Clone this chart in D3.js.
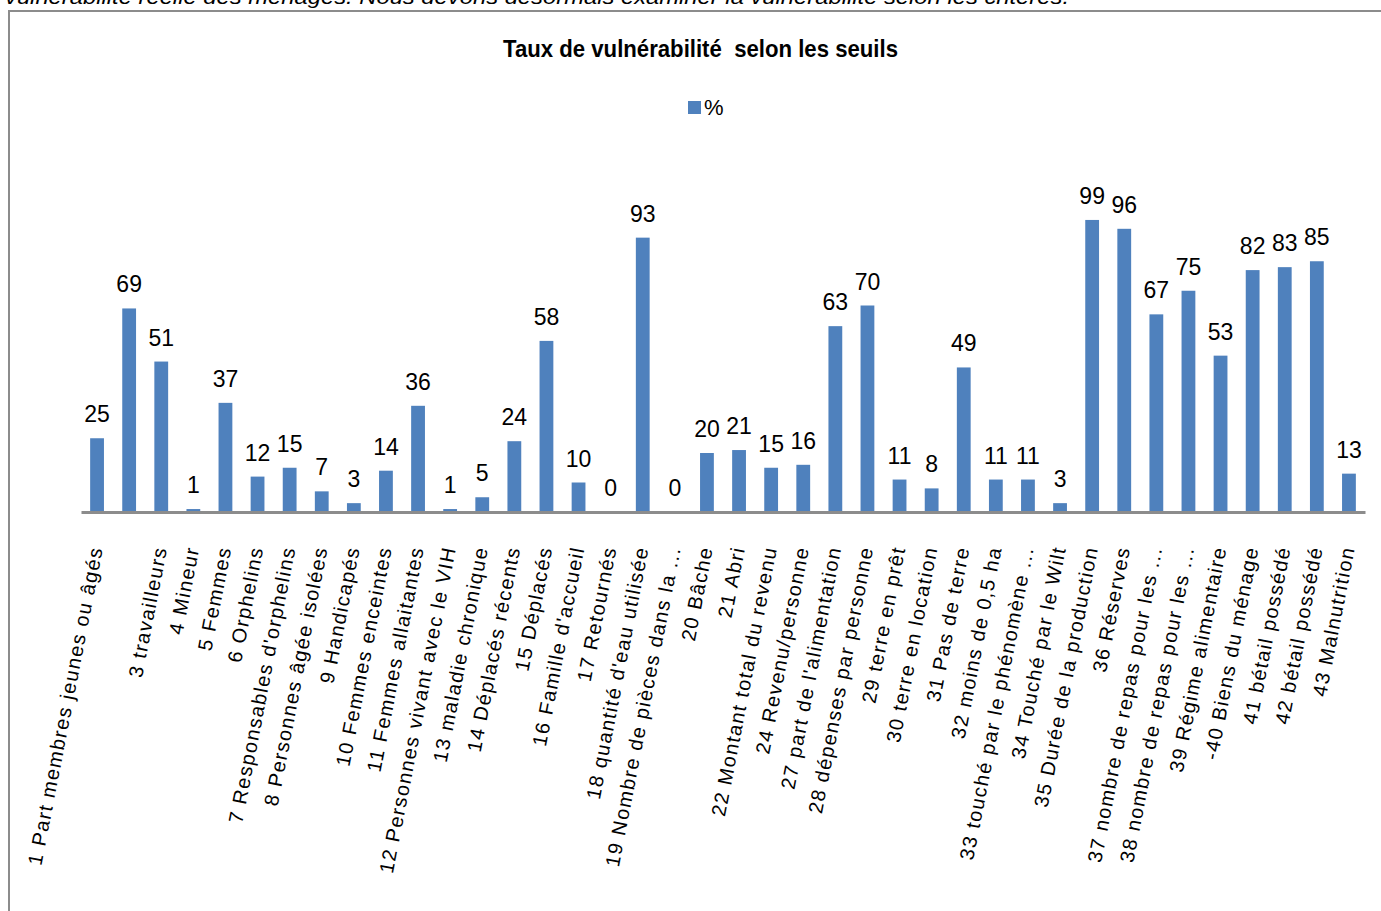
<!DOCTYPE html>
<html><head><meta charset="utf-8">
<script src="https://cdn.jsdelivr.net/npm/d3@7"></script>
<style>body{margin:0;background:#fff;overflow:hidden}svg{display:block}</style>
</head><body>
<script>
const categories = ["1 Part membres jeunes ou âgés","","3 travailleurs","4 Mineur","5 Femmes","6 Orphelins","7 Responsables d'orphelins","8 Personnes âgée isolées","9 Handicapés","10 Femmes enceintes","11 Femmes allaitantes","12 Personnes vivant avec le VIH","13 maladie chronique","14 Déplacés récents","15 Déplacés","16 Famille d'accueil","17 Retournés","18 quantité d'eau utilisée","19 Nombre de pièces dans la ...","20 Bâche","21 Abri","22 Montant total du revenu","24 Revenu/personne","27 part de l'alimentation","28 dépenses par personne","29 terre en prêt","30 terre en location","31 Pas de terre","32 moins de 0,5 ha","33 touché par le phénomène ...","34 Touché par le Wilt","35 Durée de la production","36 Réserves","37 nombre de repas pour les ...","38 nombre de repas pour les ...","39 Régime alimentaire","-40 Biens du ménage","41 bétail possédé","42 bétail possédé","43 Malnutrition"];
const values = [25,69,51,1,37,12,15,7,3,14,36,1,5,24,58,10,0,93,0,20,21,15,16,63,70,11,8,49,11,11,3,99,96,67,75,53,82,83,85,13];
const seriesName = "%";
const title = "Taux de vulnérabilité  selon les seuils";
const topText = "vulnérabilité réelle des ménages. Nous devons désormais examiner la vulnérabilité selon les critères.";

const W = 1381, H = 911;
const svg = d3.select("body").append("svg").attr("width", W).attr("height", H);
const color = "#4F81BD";

svg.append("text").attr("x", 5).attr("y", 4)
  .attr("font-family", "Liberation Sans, Arial, sans-serif").attr("font-style", "italic")
  .attr("font-size", 20).attr("textLength", 1064).attr("lengthAdjust", "spacingAndGlyphs")
  .attr("fill", "#000").text(topText);

svg.append("rect").attr("x", 9).attr("y", 11).attr("width", W).attr("height", H)
  .attr("fill", "#fff").attr("stroke", "#8c8c8c").attr("stroke-width", 2);

svg.append("text").attr("x", 503).attr("y", 57)
  .attr("font-family", "Liberation Sans, Arial, sans-serif")
  .attr("font-weight", "bold").attr("font-size", 24)
  .attr("textLength", 395).attr("lengthAdjust", "spacingAndGlyphs")
  .style("white-space", "pre").text(title);

// legend
svg.append("rect").attr("x", 688).attr("y", 101).attr("width", 13).attr("height", 13).attr("fill", color);
svg.append("text").attr("x", 704).attr("y", 115)
  .attr("font-family", "Liberation Sans, Arial, sans-serif").attr("font-size", 22).text(seriesName);

const x = d3.scaleBand().domain(d3.range(values.length)).range([81, 1365]).paddingInner(0.57).paddingOuter(0.285);
const y = d3.scaleLinear().domain([0, 100]).range([512, 217]);

svg.selectAll("rect.bar").data(values).join("rect").attr("class", "bar")
  .attr("x", (d, i) => x(i)).attr("width", x.bandwidth())
  .attr("y", d => y(d)).attr("height", d => y(0) - y(d)).attr("fill", color);

svg.selectAll("text.val").data(values).join("text").attr("class", "val")
  .attr("x", (d, i) => x(i) + x.bandwidth() / 2).attr("y", d => y(d) - 16)
  .attr("text-anchor", "middle").attr("font-family", "Liberation Sans, Arial, sans-serif")
  .attr("font-size", 23).attr("fill", "#000").text(d => d);

// axis
const axis = d3.axisBottom(x).tickSize(0).tickFormat(i => categories[i]);
const g = svg.append("g").attr("transform", `translate(0,${y(0)})`).call(axis);
g.select(".domain").attr("stroke", "#8c8c8c").attr("stroke-width", 3);
g.selectAll(".tick text")
  .attr("font-family", "Liberation Sans, Arial, sans-serif").attr("font-size", 20).attr("fill", "#000")
  .attr("letter-spacing", 1.4)
  .attr("text-anchor", "end").attr("dy", null).attr("y", 0)
  .attr("transform", "translate(6,36) rotate(-79)");
</script>
</body></html>
